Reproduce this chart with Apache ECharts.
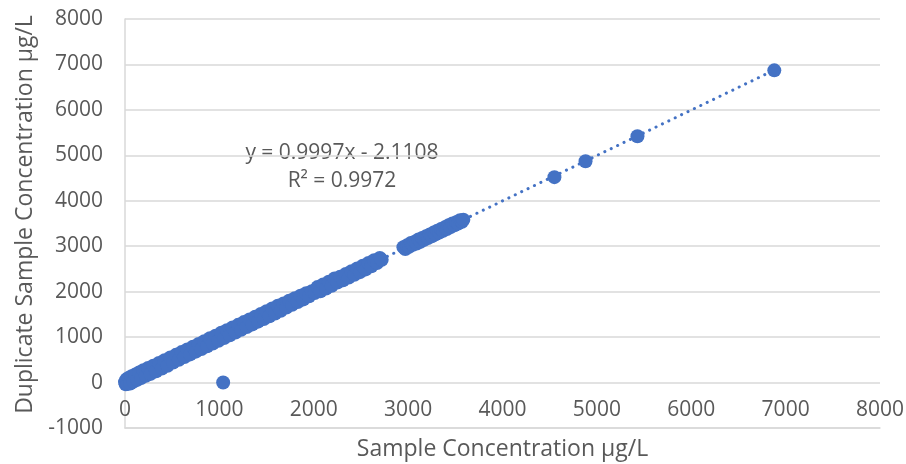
<!DOCTYPE html>
<html>
<head>
<meta charset="utf-8">
<script src="https://cdn.jsdelivr.net/npm/echarts@6/dist/echarts.min.js"></script>
<style>html,body{margin:0;padding:0;background:#fff}#c{width:906px;height:464px}</style>
</head>
<body>
<div id="c"></div>
<script>
// Sample concentration (x) and duplicate concentration (y), µg/L
var sampleX = [0,8,15,25,40,55,70,90,110,130,150,170,195,220,245,270,300,330,360,390,420,450,480,510,540,570,600,630,660,690,720,750,780,810,840,870,900,930,960,990,1020,1050,1080,1110,1140,1170,1200,1230,1260,1290,1320,1350,1380,1410,1440,1470,1500,1530,1560,1590,1620,1650,1680,1710,1740,1770,1800,1830,1860,1890,1920,1950,1980,2010,2040,2070,2100,2130,2160,2190,2220,2250,2280,2310,2340,2370,2400,2430,2460,2490,2520,2550,2580,2610,2640,2670,2700,2720,
  2950,2970,2990,3010,3030,3050,3070,3090,3110,3130,3150,3170,3190,3210,3230,3250,3270,3290,3310,3330,3350,3370,3390,3410,3430,3450,3470,3490,3510,3530,3550,3570,3585,
  4550,4880,5430,6880,
  1040];
var duplicateY = [10,-40,70,-30,100,-20,140,20,180,60,220,100,270,150,320,190,370,250,430,310,490,370,550,440,610,500,670,560,730,620,790,680,850,740,910,800,975,860,1030,920,1095,980,1150,1040,1210,1100,1270,1160,1330,1220,1390,1280,1450,1340,1510,1400,1570,1460,1630,1520,1690,1580,1740,1650,1800,1710,1855,1770,1910,1830,1965,1900,2010,1970,2100,2010,2160,2070,2220,2130,2290,2200,2330,2250,2390,2310,2450,2370,2510,2430,2570,2490,2630,2560,2690,2630,2740,2700,
  2980,2940,3020,2990,3070,3030,3100,3060,3150,3100,3180,3140,3220,3180,3260,3220,3300,3260,3340,3300,3380,3340,3420,3380,3460,3420,3500,3460,3530,3500,3570,3540,3585,
  4520,4870,5420,6870,
  0];
// Linear trendline end points (y = 0.9997x - 2.1108)
var trendX = [0, 6880];
var trendY = [-2.1, 6876];
var xTicks = {min: 0, max: 8000, interval: 1000};
var yTicks = {min: -1000, max: 8000, interval: 1000};
var equationText = "y = 0.9997x - 2.1108";
var r2Text = "R² = 0.9972";

var pts = sampleX.map(function(x, i){ return [x, duplicateY[i]]; });
var trend = trendX.map(function(x, i){ return [x, trendY[i]]; });

var blue = '#4472C4';
var gray = '#595959';
var grid = '#d9d9d9';
var font = 'Open Sans';

var chart = echarts.init(document.getElementById('c'), null, {renderer: 'canvas'});
chart.setOption({
  animation: false,
  backgroundColor: '#fff',
  grid: {left: 125, right: 26, top: 19, bottom: 36, containLabel: false, outerBoundsMode: 'none'},
  xAxis: {
    type: 'value', min: xTicks.min, max: xTicks.max, interval: xTicks.interval,
    position: 'bottom',
    name: 'Sample Concentration µg/L', nameLocation: 'middle', nameGap: 10,
    nameTextStyle: {color: gray, fontSize: 23, fontFamily: font, verticalAlign: 'top'},
    axisLine: {show: true, onZero: false, lineStyle: {color: grid, width: 1.5}},
    axisTick: {show: false},
    axisLabel: {color: gray, fontSize: 21, fontFamily: font, margin: -28,
      formatter: function(v){ return String(v); }},
    splitLine: {show: false}
  },
  yAxis: {
    type: 'value', min: yTicks.min, max: yTicks.max, interval: yTicks.interval,
    name: 'Duplicate Sample Concentration µg/L', nameLocation: 'middle', nameGap: 82,
    nameTextStyle: {color: gray, fontSize: 23, fontFamily: font, padding: [0, 0, 0, 18]},
    axisLine: {show: true, lineStyle: {color: grid, width: 1.5}},
    axisTick: {show: false},
    axisLabel: {color: gray, fontSize: 21, fontFamily: font, margin: 22,
      formatter: function(v){ return String(v); }},
    splitLine: {show: true, lineStyle: {color: grid, width: 1.5}}
  },
  graphic: [
    {type: 'text', x: 342, y: 153, style: {text: equationText, fill: gray, font: '21px "Open Sans"', textAlign: 'center', textVerticalAlign: 'middle'}},
    {type: 'text', x: 342, y: 181, style: {text: r2Text, fill: gray, font: '21px "Open Sans"', textAlign: 'center', textVerticalAlign: 'middle'}}
  ],
  series: [
    {
      type: 'line', data: trend, symbol: 'none', z: 1,
      lineStyle: {color: blue, width: 3, type: [0.1, 7], cap: 'round'}
    },
    {
      type: 'scatter', data: pts, symbol: 'circle', symbolSize: 14, z: 2,
      itemStyle: {color: blue, opacity: 1}
    }
  ]
});
</script>
</body>
</html>
